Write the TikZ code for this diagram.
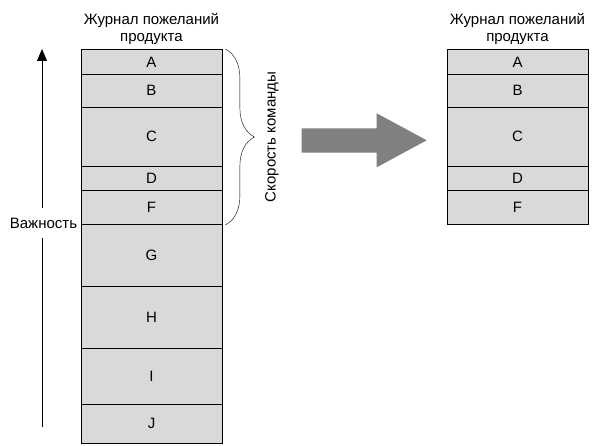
\documentclass[tikz,border=0pt]{standalone}
\usepackage{fontspec}
\setmainfont{Liberation Sans}
\usetikzlibrary{arrows.meta,decorations.pathreplacing}

\tikzset{
  blk/.style={draw=black, fill=gray!30, minimum width=141pt, inner sep=0pt, line width=0.8pt},
  lbl/.style={font=\fontsize{15}{17}\selectfont},
  ttl/.style={lbl, align=center}
}

\begin{document}
\begin{tikzpicture}[x=1pt,y=-1pt]
            \useasboundingbox (0,0) rectangle (597,446);
            \node[ttl] (L-title) at (151.5,28.5) {Журнал пожеланий\\продукта};
            \node[ttl] (R-title) at (517.5,28.5) {Журнал пожеланий\\продукта};
             \foreach \n/\t/\b [evaluate=\b as \h using \b-\t, evaluate=\b as \m using (\t+\b)/2] in
               {A/49.5/74.5, B/74.5/107, C/107/166, D/166/190.5, F/190.5/224.5,
                G/224.5/286.3, H/286.3/348.3, I/348.3/404.3, J/404.3/443}
            \node[blk, lbl, minimum height=\h pt] (L-\n) at (151.5,\m) {\n};
             \foreach \n/\t/\b [evaluate=\b as \h using \b-\t, evaluate=\b as \m using (\t+\b)/2] in
               {A/49.5/74.5, B/74.5/107, C/107/166, D/166/190.5, F/190.5/224.5}
            \node[blk, lbl, minimum height=\h pt] (R-\n) at (517.5,\m) {\n};
            \draw[decorate, decoration={brace, amplitude=29pt}] ([xshift=3pt]L-A.north east) -- ([xshift=3pt]L-F.south east);
            \node[lbl, rotate=90] (speed) at (272,137) {Скорость команды};
            \coordinate (imp-top) at (42,49);
            \coordinate (imp-bot) at (42,427);
            \node[lbl, minimum height=30pt, inner sep=0pt] (imp) at (43.5,223) {Важность};
            \draw[line width=0.8pt] (imp-bot) -- (imp-bot |- imp.south);
            \draw[line width=0.8pt, -{Triangle[length=12pt,width=10pt]}] (imp-top |- imp.north) -- (imp-top);
            \fill[gray] (301.7,128.3) -- (376.7,128.3) -- (376.7,113.3) -- (426.7,140.3) -- (376.7,167.3) -- (376.7,152.7) -- (301.7,152.7) -- cycle;
        \end{tikzpicture}
\end{document}
